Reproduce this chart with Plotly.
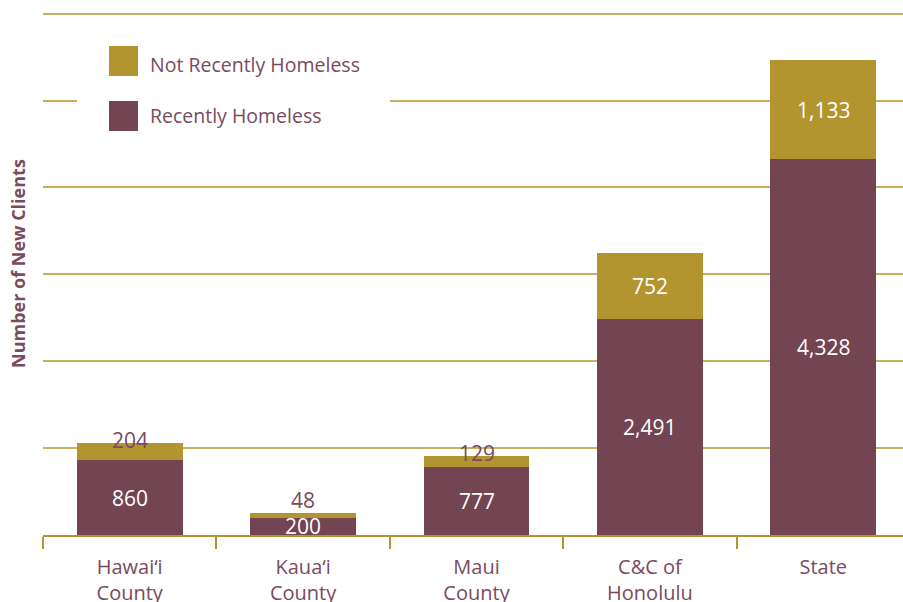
import plotly.graph_objects as go

categories = ["Hawai\u2018i<br>County", "Kaua\u2018i<br>County", "Maui<br>County", "C&C of<br>Honolulu", "State"]
recently_homeless = [860, 200, 777, 2491, 4328]
not_recently_homeless = [204, 48, 129, 752, 1133]
y_ticks = [0, 1000, 2000, 3000, 4000, 5000, 6000]
y_max = 6030

GOLD = "#B39530"
MAUVE = "#734452"
TEXT = "#7A4A5E"
GRID = "#C9AF5E"
FONT = "Open Sans"

W, H = 910, 602
L, R, T, B = 43, 0, 11, 67
PW, PH = W - L - R, H - T - B

def px_x(px):
    return (px - L) / PW

def px_y(py):
    return (H - B - py) / PH

fig = go.Figure()
fig.add_trace(go.Bar(x=categories, y=recently_homeless, name="Recently Homeless",
                     marker=dict(color=MAUVE, line=dict(width=0)), showlegend=False))
fig.add_trace(go.Bar(x=categories, y=not_recently_homeless, name="Not Recently Homeless",
                     marker=dict(color=GOLD, line=dict(width=0)), showlegend=False))

annotations = []
for i, (c, r, n) in enumerate(zip(categories, recently_homeless, not_recently_homeless)):
    annotations.append(dict(x=c, y=r / 2, text=f"{r:,}", showarrow=False,
                            font=dict(family=FONT, size=21, color="white"), yanchor="middle"))
    if n >= 300:
        annotations.append(dict(x=c, y=r + n / 2, text=f"{n:,}", showarrow=False,
                                font=dict(family=FONT, size=21, color="white"), yanchor="middle"))
    else:
        shift = 13 if n < 100 else 3
        annotations.append(dict(x=c, y=r + n, text=f"{n:,}", showarrow=False, yshift=shift,
                                font=dict(family=FONT, size=21, color=TEXT), yanchor="middle"))

# y-axis title
annotations.append(dict(xref="paper", yref="paper", x=px_x(18), y=px_y(264),
                        xanchor="center", yanchor="middle",
                        text="<b>Number of New Clients</b>", textangle=-90, showarrow=False,
                        font=dict(family=FONT, size=18, color=TEXT)))
# legend texts
annotations.append(dict(xref="paper", yref="paper", x=px_x(148), y=px_y(64), xanchor="left",
                        yanchor="middle", text="Not Recently Homeless", showarrow=False,
                        font=dict(family=FONT, size=19.5, color=TEXT)))
annotations.append(dict(xref="paper", yref="paper", x=px_x(148), y=px_y(115), xanchor="left",
                        yanchor="middle", text="Recently Homeless", showarrow=False,
                        font=dict(family=FONT, size=19.5, color=TEXT)))

shapes = [
    dict(type="rect", xref="paper", yref="paper", x0=px_x(77), x1=px_x(390), y0=px_y(145), y1=px_y(30),
         fillcolor="white", line=dict(width=0), layer="above"),
    dict(type="rect", xref="paper", yref="paper", x0=px_x(109), x1=px_x(138), y0=px_y(76), y1=px_y(46),
         fillcolor=GOLD, line=dict(width=0), layer="above"),
    dict(type="rect", xref="paper", yref="paper", x0=px_x(109), x1=px_x(138), y0=px_y(131), y1=px_y(101),
         fillcolor=MAUVE, line=dict(width=0), layer="above"),
]

fig.update_layout(
    width=W, height=H,
    margin=dict(l=L, r=R, t=T, b=B, autoexpand=False),
    barmode="stack", bargap=0.39,
    plot_bgcolor="white", paper_bgcolor="white",
    showlegend=False,
    font=dict(family=FONT, color=TEXT),
    annotations=annotations,
    shapes=shapes,
    xaxis=dict(showline=True, linecolor=GOLD, linewidth=1.5, ticks="outside", tickson="boundaries",
               ticklen=12, tickcolor=GOLD, tickwidth=1.5, showgrid=False, automargin=False,
               ticklabelstandoff=13,
               tickfont=dict(family=FONT, size=20, color=TEXT)),
    yaxis=dict(range=[0, y_max], tickvals=y_ticks, showticklabels=False, showgrid=True, automargin=False,
               gridcolor=GRID, gridwidth=1.5, zeroline=False, showline=False, ticks=""),
)

fig.write_html("out.html", config={"displayModeBar": False},
               post_script="document.body.style.margin='0';document.body.style.overflow='hidden';")
